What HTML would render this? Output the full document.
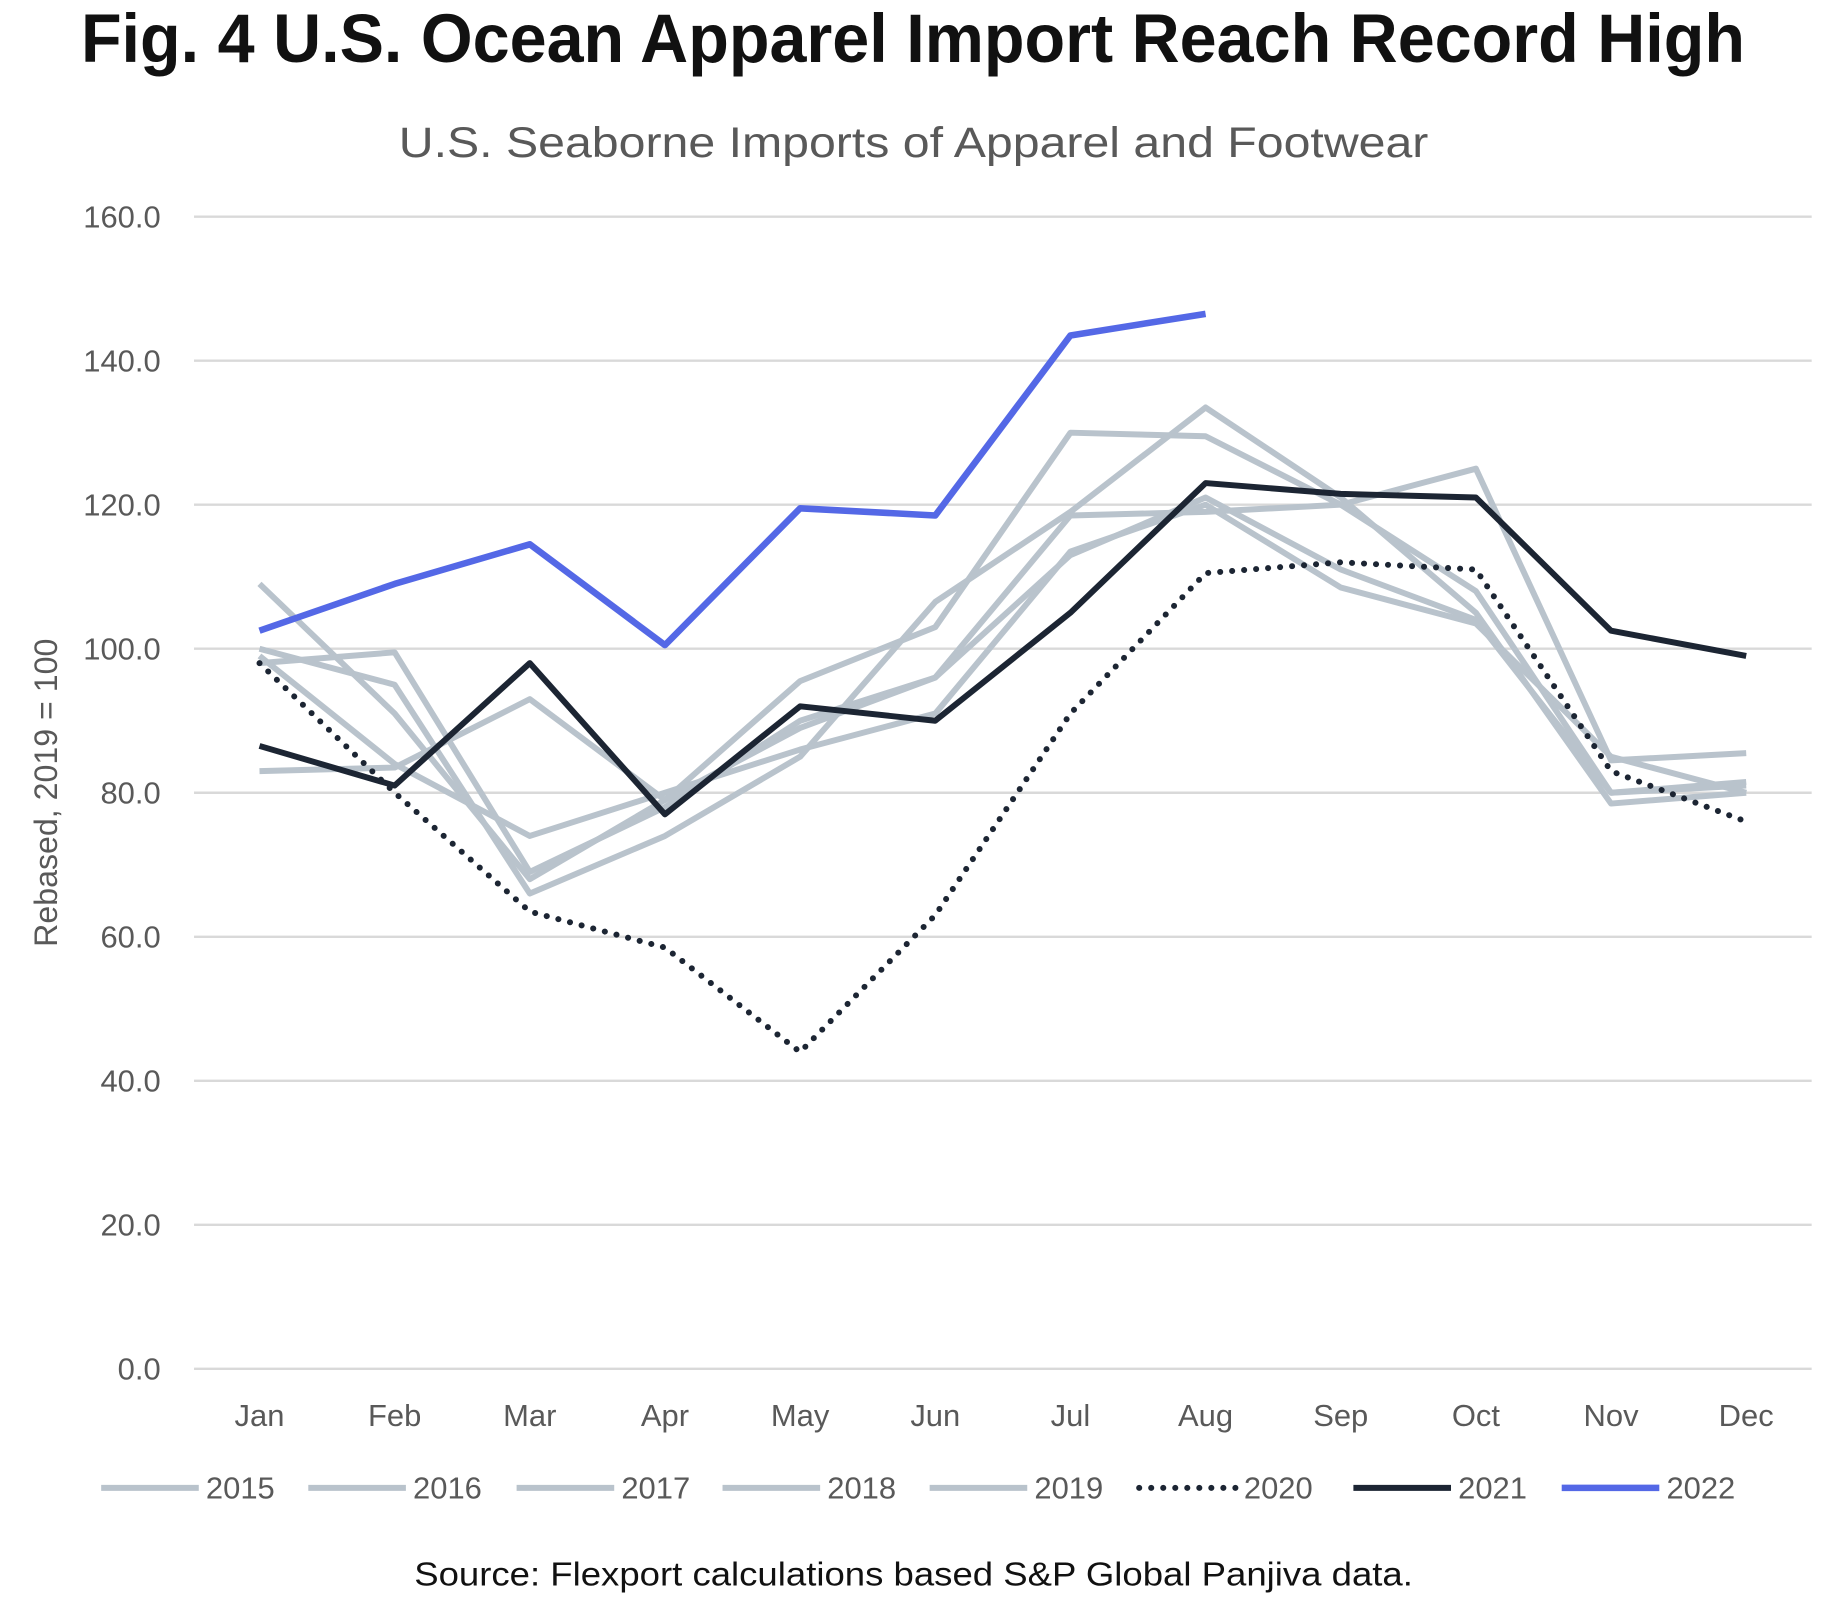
<!DOCTYPE html>
<html><head><meta charset="utf-8"><style>
html,body{margin:0;padding:0;background:#fff;width:1845px;height:1598px;overflow:hidden}
svg{display:block}
text{font-family:"Liberation Sans",sans-serif}
</style></head><body>
<svg id="chart" width="1845" height="1598" viewBox="0 0 1550 1342.5" preserveAspectRatio="none" xmlns="http://www.w3.org/2000/svg">
<text x="68" y="52" font-size="58" font-weight="bold" fill="#111" textLength="1398" lengthAdjust="spacingAndGlyphs">Fig. 4 U.S. Ocean Apparel Import Reach Record High</text>
<text x="335" y="132" font-size="36" fill="#595959" textLength="865" lengthAdjust="spacingAndGlyphs">U.S. Seaborne Imports of Apparel and Footwear</text>
<text transform="translate(48,666) rotate(-90)" text-anchor="middle" font-size="27" fill="#595959">Rebased, 2019 = 100</text>
<g id="grid"></g><g id="xlabels"></g><g id="series"></g><g id="legend"></g>
<text x="348" y="1332" font-size="28" fill="#111" textLength="839" lengthAdjust="spacingAndGlyphs">Source: Flexport calculations based S&amp;P Global Panjiva data.</text>
</svg>
<script>
const months = ["Jan","Feb","Mar","Apr","May","Jun","Jul","Aug","Sep","Oct","Nov","Dec"];
const yTicks = [0,20,40,60,80,100,120,140,160];
const years = ["2015","2016","2017","2018","2019","2020","2021","2022"];
const s2015 = [109,91,68,79,95.5,103,130,129.5,120,108,80,81.5];
const s2016 = [100,95,66,74,85,106.5,119,133.5,121,105,78.5,80];
const s2017 = [83,83.5,93,79,89,96,118.5,119,120,125,84.5,85.5];
const s2018 = [98,99.5,69,78,90,96,113,121,111,104,80,81];
const s2019 = [99,84,74,80,86,91,113.5,120,108.5,103.5,85,80];
const s2020 = [98,80,63.5,58.5,44,63,91,110.5,112,111,83,76];
const s2021 = [86.5,81,98,77,92,90,105,123,121.5,121,102.5,99];
const s2022 = [102.5,109,114.5,100.5,119.5,118.5,143.5,146.5];
const NS="http://www.w3.org/2000/svg";
const x = i => 218 + i*(1467-218)/11;
const y = v => 1150 - v*(968/160);
function mk(tag, attrs, parent){const e=document.createElementNS(NS,tag);for(const k in attrs)e.setAttribute(k,attrs[k]);parent.appendChild(e);return e;}
const grid=document.getElementById('grid');
yTicks.forEach(t=>{
  const l=mk('line',{x1:163,x2:1522,y1:y(t),y2:y(t),stroke:'#d9d9d9','stroke-width':2},grid);
  
  
  const tx=mk('text',{x:135,y:y(t)+9,'text-anchor':'end','font-size':26,fill:'#595959'},grid);
  tx.textContent=t.toFixed(1);
  
  
});
const xl=document.getElementById('xlabels');
months.forEach((m,i)=>{
  const t=mk('text',{x:x(i),y:1198,'text-anchor':'middle','font-size':26,fill:'#595959'},xl);
  t.textContent=m;
  
  
});
const data=[s2015,s2016,s2017,s2018,s2019,s2020,s2021,s2022];
const styles=[
 {c:'#b9c3cc',w:5,d:''},{c:'#b9c3cc',w:5,d:''},{c:'#b9c3cc',w:5,d:''},{c:'#b9c3cc',w:5,d:''},{c:'#b9c3cc',w:5,d:''},
 {c:'#1c2533',w:5,d:'0.1 10'},{c:'#1c2533',w:5,d:''},{c:'#5468e6',w:5.5,d:''}];
const sg=document.getElementById('series');
data.forEach((arr,k)=>{
  const st=styles[k];
  const p=mk('polyline',{points:arr.map((v,i)=>x(i)+','+y(v)).join(' '),fill:'none',stroke:st.c,'stroke-width':st.w,'stroke-linejoin':'round','stroke-linecap':st.d?'round':'butt'},sg);
  if(st.d)p.setAttribute('stroke-dasharray',st.d);
  
  
});
const lg=document.getElementById('legend');
const lx=[85,259,434,607,781,957,1137,1312];
years.forEach((yr,k)=>{
  const st=styles[k];
  const g=mk('g',{},lg);
  
  
  const l=mk('line',{x1:lx[k],x2:lx[k]+82,y1:1250,y2:1250,stroke:st.c,'stroke-width':st.w,'stroke-linecap':st.d?'round':'butt'},g);
  if(st.d)l.setAttribute('stroke-dasharray',st.d);
  const t=mk('text',{x:lx[k]+88,y:1259,'font-size':26,fill:'#595959'},g);
  t.textContent=yr;
});
</script>
</body></html>
